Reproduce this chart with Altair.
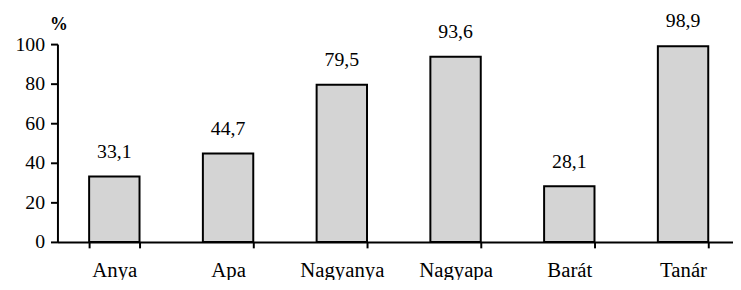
import altair as alt
import pandas as pd

categories = ["Anya", "Apa", "Nagyanya", "Nagyapa", "Barát", "Tanár"]
values = [33.1, 44.7, 79.5, 93.6, 28.1, 98.9]
value_labels = ["33,1", "44,7", "79,5", "93,6", "28,1", "98,9"]
y_ticks = [0, 20, 40, 60, 80, 100]

df = pd.DataFrame({"cat": categories, "val": values, "lab": value_labels})

FONT = "Liberation Serif"

x_enc = alt.X(
    "cat:N",
    sort=categories,
    scale=alt.Scale(range=[0, 690], paddingInner=0.557, paddingOuter=0.2785),
    axis=alt.Axis(
        title=None, labelAngle=0, tickBand="extent", labelFont=FONT,
        labelFontSize=21, labelColor="black", domainColor="black",
        domainWidth=2, tickColor="black", tickWidth=2, tickSize=6,
        labelPadding=12, grid=False,
    ),
)

y_enc = alt.Y(
    "val:Q",
    scale=alt.Scale(domain=[0, 100], nice=False),
    axis=alt.Axis(
        values=y_ticks, title="%", titleAngle=0, titleFont=FONT,
        titleFontSize=18, titleFontWeight="bold", titleColor="black",
        titleAlign="center", titleBaseline="alphabetic", titleX=1, titleY=-15,
        labelFont=FONT, labelFontSize=20, labelColor="black", labelPadding=6,
        domainColor="black", domainWidth=2, tickColor="black", tickWidth=2,
        tickSize=7, grid=False, labelOverlap=False,
    ),
)

bars = alt.Chart(df).mark_bar(
    color="#d4d4d4", stroke="black", strokeWidth=2
).encode(x=x_enc, y=y_enc)

labels = alt.Chart(df).mark_text(
    font=FONT, fontSize=20, color="black", baseline="alphabetic", dy=-19
).encode(x=x_enc, y=y_enc, text="lab:N")

chart = (
    alt.layer(bars, labels)
    .properties(
        width=683,
        height=200,
        autosize=alt.AutoSizeParams(type="none"),
        padding={"left": 50, "top": 35, "right": 0, "bottom": 37},
        background="white",
    )
    .configure(font=FONT)
    .configure_view(stroke=None)
    .configure_axis(labelFont=FONT, titleFont=FONT, domainColor="black", tickColor="black",
                    domainWidth=2, tickWidth=2, labelColor="black", titleColor="black")
    .configure_text(font=FONT)
)

chart.save("out.html", embed_options={"renderer": "svg", "actions": False})
